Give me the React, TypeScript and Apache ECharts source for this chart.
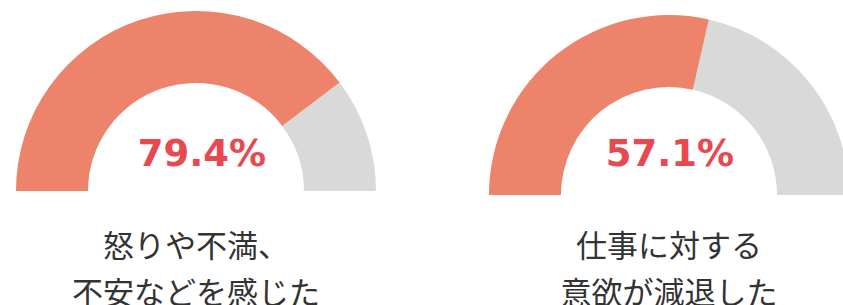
import React, { useEffect, useRef } from "react";
import * as echarts from "echarts";

const labels = ["怒りや不満、\n不安などを感じた", "仕事に対する\n意欲が減退した"];
const values = [79.4, 57.1];
const centers: [number, number][] = [[196, 191], [669, 195]];
const detailOffsets: [number, number][] = [[6, -38], [1, -42]];
const titleOffsets: [number, number][] = [[0, 76], [0, 72]];

const ORANGE = "#EC836A";
const GRAY = "#D9D9D9";
const RED = "#E8484F";

export default function App() {
  const ref = useRef<HTMLDivElement>(null);
  useEffect(() => {
    document.body.style.margin = "0";
    const chart = echarts.init(ref.current!, null, { renderer: "svg" });
    const series = values.map((v, i) => ({
      type: "gauge",
      center: centers[i],
      radius: 180,
      startAngle: 180,
      endAngle: 0,
      min: 0,
      max: 100,
      pointer: { show: false },
      progress: { show: false },
      axisTick: { show: false },
      splitLine: { show: false },
      axisLabel: { show: false },
      anchor: { show: false },
      axisLine: {
        lineStyle: {
          width: 72,
          color: [
            [v / 100, ORANGE],
            [1, GRAY],
          ],
        },
      },
      title: {
        show: true,
        offsetCenter: titleOffsets[i],
        fontSize: 31,
        lineHeight: 47,
        color: "#333333",
        fontFamily: "Noto Sans CJK JP",
      },
      detail: {
        show: true,
        offsetCenter: detailOffsets[i],
        formatter: "{value}%",
        fontSize: 37,
        fontWeight: "bold",
        color: RED,
        fontFamily: "DejaVu Sans",
        valueAnimation: false,
      },
      data: [{ value: v, name: labels[i] }],
    }));
    chart.setOption({ animation: false, series });
    return () => chart.dispose();
  }, []);
  return <div ref={ref} style={{ width: 843, height: 305 }} />;
}
